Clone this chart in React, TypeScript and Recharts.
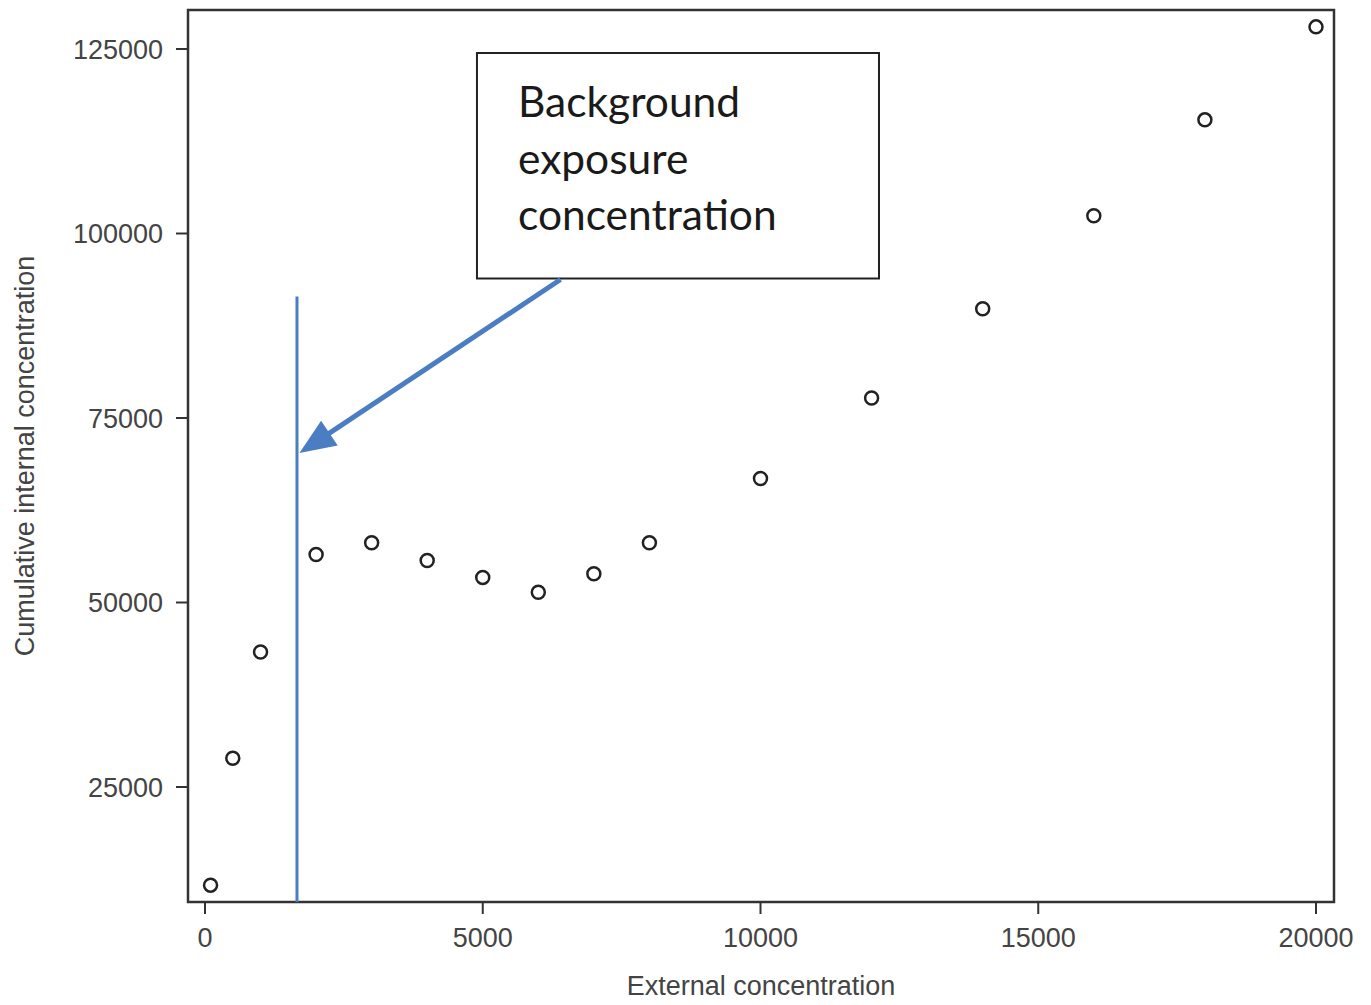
import React from "react";
import {
  ReferenceArea,
  ReferenceLine,
  Scatter,
  ScatterChart,
  XAxis,
  YAxis,
} from "recharts";

const externalConc = [100, 500, 1000, 2000, 3000, 4000, 5000, 6000, 7000, 8000, 10000, 12000, 14000, 16000, 18000, 20000];
const internalConc = [11700, 28900, 43300, 56500, 58100, 55700, 53400, 51400, 53900, 58100, 66800, 77700, 89800, 102400, 115400, 128000];

const xTicks = [0, 5000, 10000, 15000, 20000];
const yTicks = [25000, 50000, 75000, 100000, 125000];

const xDomain: [number, number] = [-306, 20324];
const yDomain: [number, number] = [9417, 130285];

// background exposure marker and annotation
const backgroundX = 1656;
const backgroundLineTop = 91460;
const arrowFrom = { x: 6400, y: 93770 };
const arrowTo = { x: 1700, y: 70250 };
const boxX = [4896, 12133];
const boxY = [93902, 124458];
const boxLines = ["Background", "exposure", "concentration"];

const data = externalConc.map((x, i) => ({ x, y: internalConc[i] }));

const AXIS_FONT = "'Liberation Sans', Arial, sans-serif";
const AXIS_COLOR = "#444";
const BLUE = "#4a7dc2";

const OpenCircle = (props: any) => (
  <circle cx={props.cx} cy={props.cy} r={6.5} fill="#fff" stroke="#222" strokeWidth={2.5} />
);

const Arrow = (props: any) => {
  const { x1, y1, x2, y2 } = props;
  const dx = x2 - x1;
  const dy = y2 - y1;
  const len = Math.sqrt(dx * dx + dy * dy) || 1;
  const ux = dx / len;
  const uy = dy / len;
  const headLen = 36;
  const headHalf = 15;
  const bx = x2 - ux * headLen;
  const by = y2 - uy * headLen;
  const pts = [
    `${x2},${y2}`,
    `${bx + uy * headHalf},${by - ux * headHalf}`,
    `${bx - uy * headHalf},${by + ux * headHalf}`,
  ].join(" ");
  return (
    <g>
      <line x1={x1} y1={y1} x2={bx + ux * 4} y2={by + uy * 4} stroke={BLUE} strokeWidth={5} />
      <polygon points={pts} fill={BLUE} />
    </g>
  );
};

const BoxText = (props: any) => {
  const vb = props.viewBox;
  return (
    <text
      x={vb.x + 41}
      y={vb.y + 64}
      fill="#1a1a1a"
      fontSize={42.5}
      fontFamily="Lato, 'Open Sans', sans-serif"
    >
      {boxLines.map((line, i) => (
        <tspan key={line} x={vb.x + 41} y={vb.y + 64 + i * 56.5}>
          {line}
        </tspan>
      ))}
    </text>
  );
};

const YLabel = (props: any) => {
  const vb = props.viewBox;
  const cx = vb.x + 17;
  const cy = vb.y + vb.height / 2;
  return (
    <text
      x={cx}
      y={cy}
      dy="0.35em"
      textAnchor="middle"
      transform={`rotate(-90 ${cx} ${cy})`}
      fill={AXIS_COLOR}
      fontSize={27}
      fontFamily={AXIS_FONT}
    >
      Cumulative internal concentration
    </text>
  );
};

const XLabel = (props: any) => {
  const vb = props.viewBox;
  return (
    <text
      x={vb.x + vb.width / 2}
      y={vb.y + 84}
      dy="0.35em"
      textAnchor="middle"
      fill={AXIS_COLOR}
      fontSize={27}
      fontFamily={AXIS_FONT}
    >
      External concentration
    </text>
  );
};

export default function App() {
  const tickStyle = { fill: AXIS_COLOR, fontSize: 27, fontFamily: AXIS_FONT };
  return (
    <div style={{ width: 1355, height: 996, background: "#fff" }}>
      <ScatterChart width={1355} height={996} margin={{ top: 2, right: 29, bottom: 0, left: 0 }}>
        <XAxis
          type="number"
          dataKey="x"
          domain={xDomain}
          ticks={xTicks}
          allowDataOverflow
          height={102}
          axisLine={false}
          tickLine={{ stroke: "#333", strokeWidth: 2 }}
          tickSize={12}
          tickMargin={14}
          tick={tickStyle}
          label={<XLabel />}
        />
        <YAxis
          type="number"
          dataKey="y"
          domain={yDomain}
          ticks={yTicks}
          allowDataOverflow
          width={180}
          axisLine={false}
          tickLine={{ stroke: "#333", strokeWidth: 2 }}
          tickSize={12}
          tickMargin={13}
          tick={tickStyle}
          label={<YLabel />}
        />
        <ReferenceArea
          x1={xDomain[0]}
          x2={xDomain[1]}
          y1={yDomain[0]}
          y2={yDomain[1]}
          fill="none"
          stroke="#333"
          strokeWidth={2.5}
          ifOverflow="visible"
        />
        <ReferenceLine
          segment={[
            { x: backgroundX, y: backgroundLineTop },
            { x: backgroundX, y: yDomain[0] },
          ]}
          stroke={BLUE}
          strokeWidth={3}
          ifOverflow="visible"
        />
        <Scatter data={data} shape={<OpenCircle />} isAnimationActive={false} />
        <ReferenceLine
          segment={[arrowFrom, arrowTo]}
          shape={(p: any) => <Arrow {...p} />}
          ifOverflow="visible"
        />
        <ReferenceArea
          x1={boxX[0]}
          x2={boxX[1]}
          y1={boxY[0]}
          y2={boxY[1]}
          fill="#fff"
          fillOpacity={1}
          stroke="#222"
          strokeWidth={2}
          ifOverflow="visible"
          label={<BoxText />}
        />
      </ScatterChart>
    </div>
  );
}
